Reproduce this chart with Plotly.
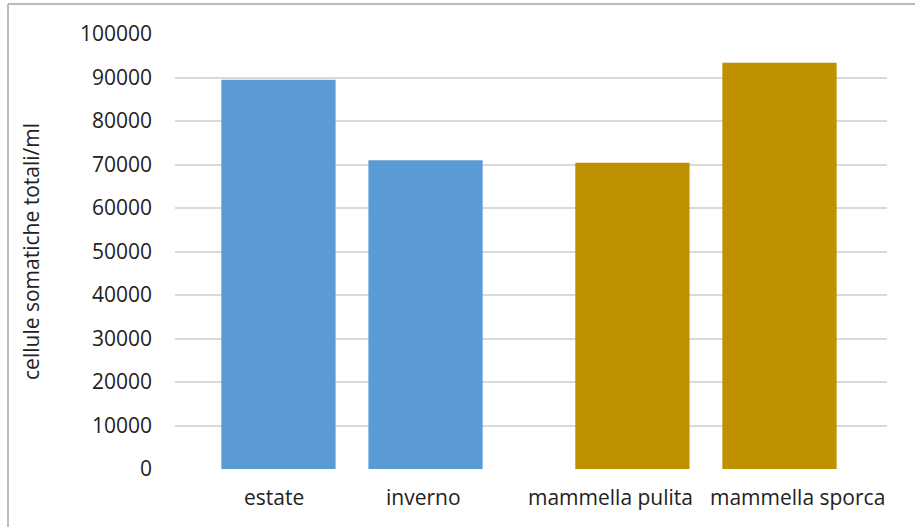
import plotly.graph_objects as go

# Somatic cell counts by season and udder cleanliness
categories = ["estate", "inverno", "mammella pulita", "mammella sporca"]
values = [89500, 71000, 70400, 93400]
groups = ["stagione", "stagione", "mammella", "mammella"]
colors = ["#5B9BD5", "#5B9BD5", "#BF9000", "#BF9000"]
y_ticks = list(range(0, 100001, 10000))

W, H = 915, 527
L, R, T, B = 175, 28, 34, 58
FONT = "Open Sans"
FSIZE = 21
BARGAP = 0.169
BARGROUPGAP = 0.223

group_names = list(dict.fromkeys(groups))

# first and second bar of each group become two offset traces
first = [i for i, g in enumerate(groups) if groups.index(g) == i]
second = [i for i in range(len(groups)) if i not in first]

fig = go.Figure()
for idx in (first, second):
    fig.add_trace(go.Bar(
        x=[groups[i] for i in idx],
        y=[values[i] for i in idx],
        marker=dict(color=[colors[i] for i in idx], line=dict(width=0)),
        showlegend=False,
        hoverinfo="skip",
    ))

# category labels under each bar
slot = (1 - BARGAP) / 2
label_shift = {0: -4, 1: -2, 2: -22, 3: 18}
annotations = []
for i, name in enumerate(categories):
    g = group_names.index(groups[i])
    pos = -0.5 if i in first else 0.5
    annotations.append(dict(
        x=g + pos * slot, xref="x", y=0, yref="paper",
        yshift=-28, xshift=label_shift.get(i, 0),
        text=name, showarrow=False,
        font=dict(family=FONT, size=FSIZE, color="#222222"),
        xanchor="center", yanchor="middle",
    ))

pw, ph = W - L - R, H - T - B
def px(xp):
    return (xp - L) / pw
def py(yp):
    return (H - B - yp) / ph

shapes = [
    dict(type="line", xref="paper", yref="paper", x0=px(8), x1=px(W + 5),
         y0=py(4), y1=py(4), line=dict(color="#a6a6a6", width=1.5)),
    dict(type="line", xref="paper", yref="paper", x0=px(8), x1=px(8),
         y0=py(4), y1=py(H + 5), line=dict(color="#a6a6a6", width=1.5)),
]

fig.update_layout(
    width=W, height=H,
    margin=dict(l=L, r=R, t=T, b=B),
    paper_bgcolor="white", plot_bgcolor="white",
    barmode="group", bargap=BARGAP, bargroupgap=BARGROUPGAP,
    annotations=annotations, shapes=shapes,
    xaxis=dict(showticklabels=False, showgrid=False, zeroline=False,
               showline=False, ticks=""),
    yaxis=dict(
        range=[0, 100000], tickvals=y_ticks, tickformat="d",
        showgrid=True, gridcolor="#d9d9d9", gridwidth=1.5,
        zeroline=False, showline=False, ticks="",
        tickfont=dict(family=FONT, size=FSIZE, color="#222222"),
        ticklabelstandoff=22,
        title=dict(text="cellule somatiche totali/ml", standoff=34,
                   font=dict(family=FONT, size=FSIZE, color="#222222")),
    ),
)

fig.write_html("out.html")
